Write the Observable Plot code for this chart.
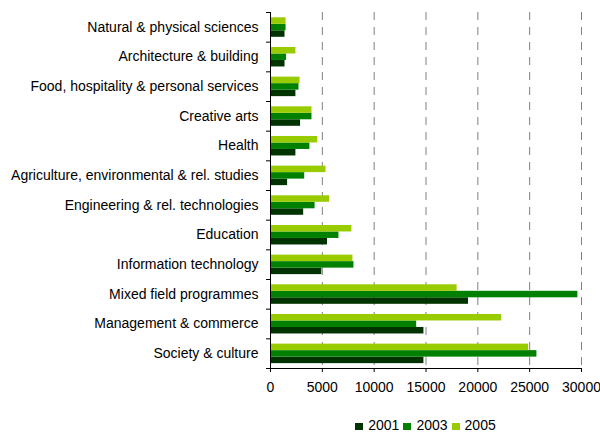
<!DOCTYPE html>
<html><head><meta charset="utf-8">
<script src="https://cdn.jsdelivr.net/npm/d3@7"></script>
<script src="https://cdn.jsdelivr.net/npm/@observablehq/plot@0.6"></script>
<style>
html,body{margin:0;padding:0;background:#fff;overflow:hidden}
body{font-family:"Liberation Sans",Arial,sans-serif;color:#000}
#legend{text-align:center;padding-left:270px;padding-right:19px;font-size:14px;line-height:16px;height:16px;white-space:nowrap}
#legend .item{display:inline-block;margin:0 2px}
#legend .sw{display:inline-block;width:8px;height:7px;margin-right:5px;vertical-align:baseline}
</style></head><body>
<div id="chart"></div>
<div id="legend"></div>
<script>
const categories = [
  "Natural & physical sciences",
  "Architecture & building",
  "Food, hospitality & personal services",
  "Creative arts",
  "Health",
  "Agriculture, environmental & rel. studies",
  "Engineering & rel. technologies",
  "Education",
  "Information technology",
  "Mixed field programmes",
  "Management & commerce",
  "Society & culture"
];
const years = ["2001", "2003", "2005"];
const v2001 = [1400, 1400, 2450, 2900, 2450, 1650, 3200, 5500, 4950, 19100, 14800, 14800];
const v2003 = [1500, 1550, 2750, 4000, 3800, 3300, 4300, 6600, 8050, 29650, 14100, 25700];
const v2005 = [1500, 2450, 2850, 4000, 4550, 5350, 5700, 7850, 7950, 18000, 22300, 24900];
const xTicks = [0, 5000, 10000, 15000, 20000, 25000, 30000];
const colors = {"2001": "#003300", "2003": "#008000", "2005": "#99cc00"};

const rows = categories.map((c, i) => ({cat: c, "2001": v2001[i], "2003": v2003[i], "2005": v2005[i]}));

const H = 417, mt = 12, mb = 49;
const band = (H - mt - mb) / categories.length;
const barH = 6.5, padTop = 5.3;
const order = ["2005", "2003", "2001"]; // top to bottom within each group
const FONT = '"Liberation Sans", Arial, sans-serif';

function bars(year) {
  const k = order.indexOf(year);
  const top = padTop + k * barH;
  return Plot.barX(rows, {
    y: "cat", x1: 0, x2: year, fill: colors[year],
    insetTop: top, insetBottom: band - top - barH
  });
}

const chart = Plot.plot({
  width: 600, height: H,
  marginTop: mt, marginBottom: mb, marginLeft: 270, marginRight: 19,
  style: {fontSize: "14px", fontFamily: FONT, color: "#000", background: "#fff", overflow: "visible"},
  x: {domain: [0, 30000], label: null},
  y: {domain: categories, padding: 0, round: false, label: null},
  marks: [
    Plot.gridX({ticks: xTicks.filter(d => d > 0), stroke: "#808080", strokeOpacity: 1, strokeDasharray: "8,7"}),
    ...years.map(bars),
    Plot.ruleX([0], {stroke: "#000"}),
    Plot.frame({anchor: "bottom", stroke: "#000"}),
    Plot.axisX({ticks: xTicks, tickSize: 4, tickPadding: 10, tickFormat: d3.format("d"), label: null, stroke: "#000", fontSize: 14, fill: "#000"}),
    Plot.axisY({tickSize: 0, tickPadding: 12, label: null, fontSize: 14, fill: "#000"}),
    Plot.axisY({tickSize: 4, tickFormat: () => "", label: null, dy: -band / 2, stroke: "#000"}),
    Plot.axisY({ticks: [categories[categories.length - 1]], tickSize: 4, tickFormat: () => "", label: null, dy: band / 2, stroke: "#000"})
  ]
});
document.getElementById("chart").appendChild(chart);

const legend = document.getElementById("legend");
for (const y of years) {
  const item = document.createElement("span");
  item.className = "item";
  const sw = document.createElement("span");
  sw.className = "sw";
  sw.style.background = colors[y];
  item.appendChild(sw);
  item.appendChild(document.createTextNode(y));
  legend.appendChild(item);
}
</script>
</body></html>
